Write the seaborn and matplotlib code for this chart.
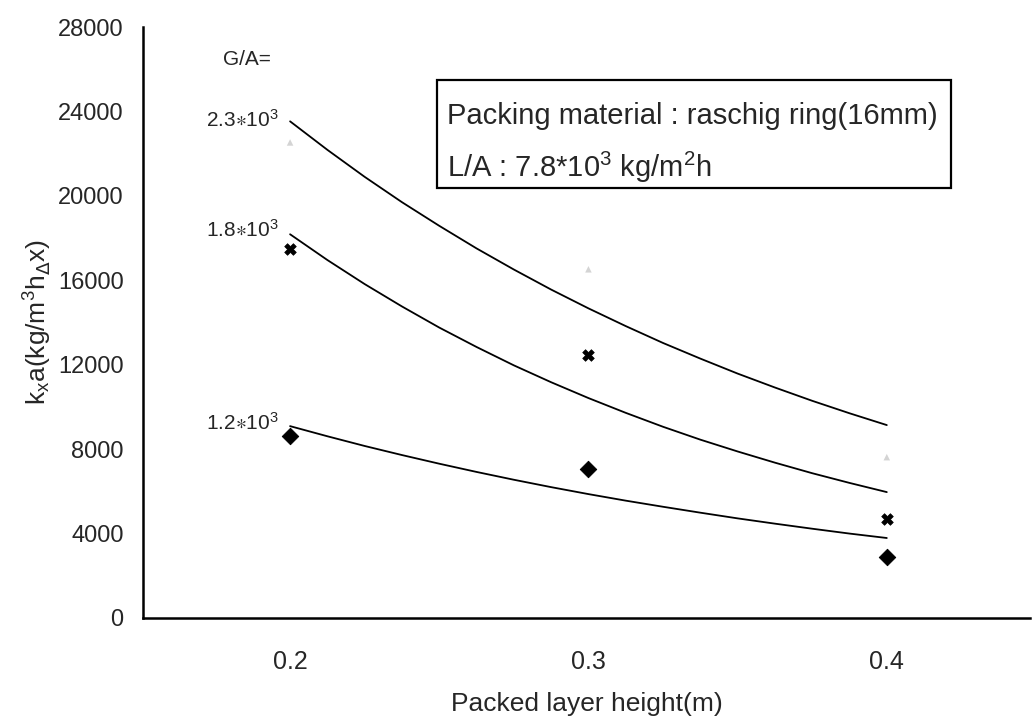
import matplotlib
matplotlib.use("Agg")
import matplotlib.pyplot as plt
import seaborn as sns
import pandas as pd
from matplotlib.patches import Rectangle

# ---- data ----
heights = [0.2, 0.3, 0.4]
kxa_g23 = [22530, 16520, 7620]
kxa_g18 = [17470, 12450, 4690]
kxa_g12 = [8620, 7050, 2890]

# trend curves, values
fit_x = [0.2, 0.2125, 0.225, 0.2375, 0.25, 0.2625, 0.275, 0.2875, 0.3,
         0.3125, 0.325, 0.3375, 0.35, 0.3625, 0.375, 0.3875, 0.4]
fit_g23 = [23530, 22180, 20900, 19700, 18580, 17510, 16510, 15560, 14670,
           13830, 13030, 12290, 11580, 10920, 10290, 9700, 9140]
fit_g18 = [18180, 16960, 15820, 14760, 13760, 12840, 11970, 11170, 10420,
           9720, 9060, 8450, 7890, 7360, 6860, 6400, 5965]
fit_g12 = [9090, 8610, 8150, 7720, 7310, 6920, 6550, 6200, 5870,
           5560, 5270, 4990, 4720, 4470, 4230, 4000, 3790]

x_ticks = [0.2, 0.3, 0.4]
x_tick_labels = ["0.2", "0.3", "0.4"]
y_ticks = [0, 4000, 8000, 12000, 16000, 20000, 24000, 28000]
y_tick_labels = ["0", "4000", "8000", "12000", "16000", "20000", "24000", "28000"]

curve_labels = [r"$\mathregular{2.3{\ast}10^3}$", r"$\mathregular{1.8{\ast}10^3}$", r"$\mathregular{1.2{\ast}10^3}$"]
curve_label_y = [23260, 18050, 8910]

sns.set_style("white")
plt.rcParams["font.family"] = ["Liberation Sans", "DejaVu Sans"]
plt.rcParams["mathtext.fontset"] = "dejavusans"

fig = plt.figure(figsize=(10.32, 7.23), dpi=100)
ax = fig.add_axes([143 / 1032, 1 - 618 / 723, 887 / 1032, 591 / 723])

n = len(fit_x)
fits = pd.DataFrame({"x": fit_x * 3,
                     "y": fit_g23 + fit_g18 + fit_g12,
                     "g": ["2.3"] * n + ["1.8"] * n + ["1.2"] * n})
for g in ["2.3", "1.8", "1.2"]:
    sub = fits[fits["g"] == g]
    sns.lineplot(data=sub, x="x", y="y", color="black", linewidth=1.3,
                 estimator=None, sort=False, ax=ax, legend=False)

sns.scatterplot(x=heights, y=kxa_g23, marker="^", color="#d4d4d4", s=22,
                edgecolor="none", ax=ax, legend=False, zorder=3)
sns.scatterplot(x=heights, y=kxa_g18, marker="X", color="black", s=70,
                edgecolor="black", linewidth=0.5, ax=ax, legend=False, zorder=3)
sns.scatterplot(x=heights, y=kxa_g12, marker="D", color="black", s=70,
                edgecolor="black", ax=ax, legend=False, zorder=3)

ax.set_xlim(0.1507, 0.448)
ax.set_ylim(0, 28000)
ax.set_xticks(x_ticks)
ax.set_xticklabels(x_tick_labels)
ax.set_yticks(y_ticks)
ax.set_yticklabels(y_tick_labels)
ax.tick_params(axis="x", length=0, pad=23, labelsize=18)
ax.tick_params(axis="y", direction="in", length=3, width=1.2, pad=14, labelsize=17)

for s in ["top", "right"]:
    ax.spines[s].set_visible(False)
for s in ["left", "bottom"]:
    ax.spines[s].set_color("black")
    ax.spines[s].set_linewidth(1.8)

ax.set_xlabel("Packed layer height(m)", fontsize=19)
ax.xaxis.set_label_coords(0.5, -0.125)
ax.set_ylabel(r"k$\mathregular{_x}$a(kg/m$\mathregular{^3}$h$_{\Delta}$x)", fontsize=19)
ax.yaxis.set_label_coords(-0.10, 0.5)

# curve labels
ax.text(0.1856, 26200, "G/A=", fontsize=15, ha="center", va="baseline")
for lab, yv in zip(curve_labels, curve_label_y):
    ax.text(0.1963, yv, lab, fontsize=15, ha="right", va="baseline")

# annotation box
fig.patches.append(Rectangle((437 / 1032, 1 - 188 / 723), 514 / 1032, 108 / 723,
                             transform=fig.transFigure, fill=False,
                             edgecolor="black", linewidth=1.6))
fig.text(447 / 1032, 1 - 124 / 723, "Packing material : raschig ring(16mm)",
         fontsize=21, ha="left", va="baseline")
fig.text(447 / 1032, 1 - 177 / 723,
         r"L/A : 7.8*10$\mathregular{^3}$ kg/m$\mathregular{^2}$h",
         fontsize=21, ha="left", va="baseline")

fig.savefig("out.png", dpi=100)
